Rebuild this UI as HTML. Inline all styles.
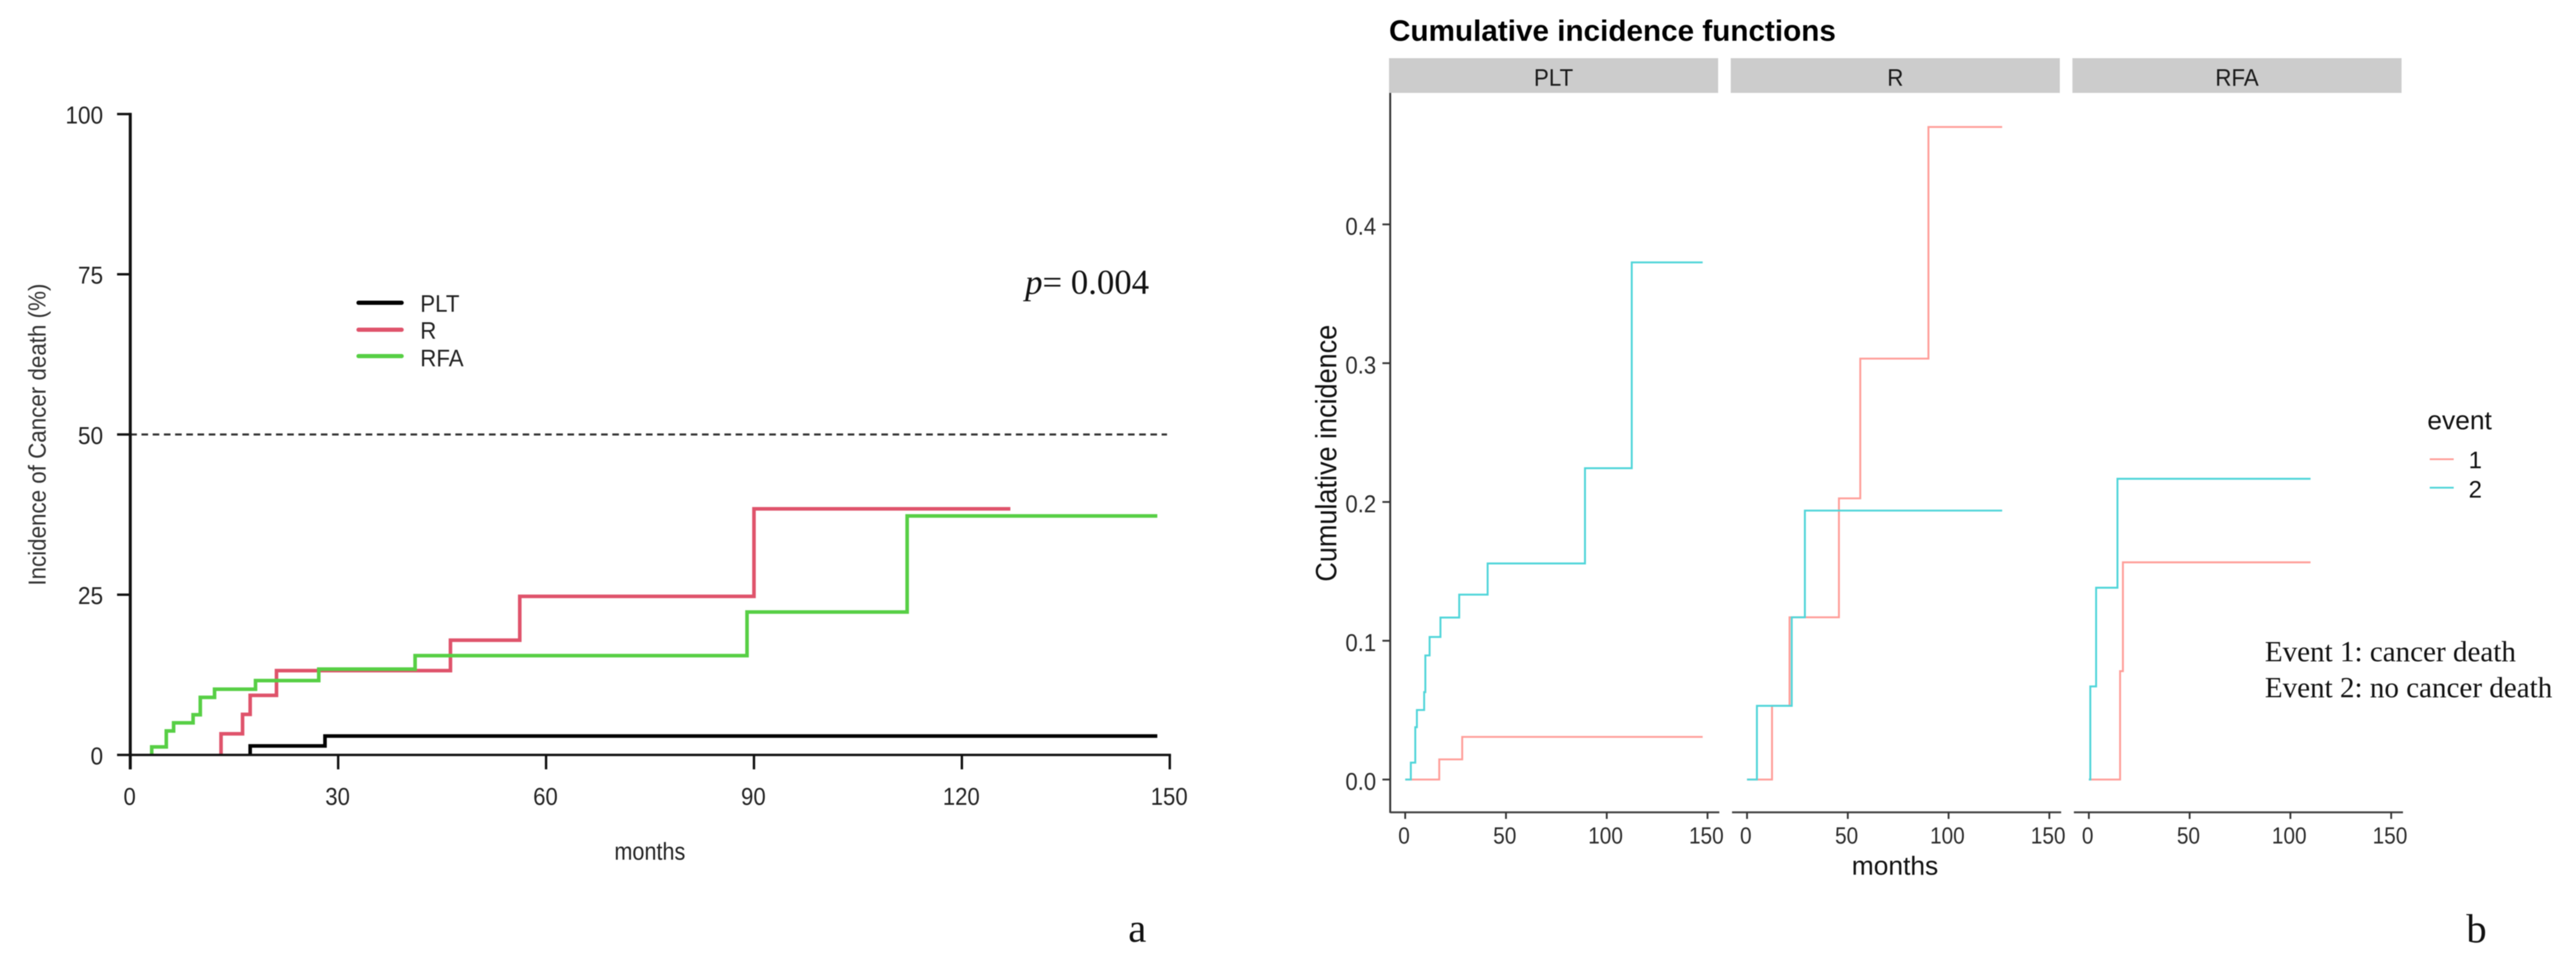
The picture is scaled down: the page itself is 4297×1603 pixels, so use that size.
<!DOCTYPE html>
<html lang="en">
<head>
<meta charset="utf-8">
<title>Cancer death incidence and cumulative incidence functions</title>
<style>
  html, body { margin: 0; padding: 0; background: #fff; }
  body { width: 4297px; height: 1603px; overflow: hidden; }
  svg { display: block; font-family: "Liberation Sans", sans-serif; filter: blur(0.7px); }
  .serif { font-family: "Liberation Serif", serif; }
</style>
</head>
<body>
<svg id="figure" xmlns="http://www.w3.org/2000/svg" width="4297" height="1603" viewBox="0 0 4297 1603">
  <rect x="0" y="0" width="4297" height="1603" fill="#ffffff"/>

  <g id="panel-a">
    <g id="a-series"></g>
    <g id="a-axes"></g>
    <text transform="translate(76,725) rotate(-90) scale(0.91,1)" text-anchor="middle" font-size="41" fill="#333">Incidence of Cancer death (%)</text>
    <text transform="translate(1084,1434) scale(0.88,1)" text-anchor="middle" font-size="41" fill="#222">months</text>
    <g>
      <line x1="598" x2="670" y1="505" y2="505" stroke="#000" stroke-width="7" stroke-linecap="round"/>
      <text transform="translate(701,520) scale(0.93,1)" font-size="40" fill="#222">PLT</text>
      <line x1="598" x2="670" y1="550" y2="550" stroke="#DF536B" stroke-width="7" stroke-linecap="round"/>
      <text transform="translate(701,565) scale(0.93,1)" font-size="40" fill="#222">R</text>
      <line x1="598" x2="670" y1="594" y2="594" stroke="#57CF45" stroke-width="7" stroke-linecap="round"/>
      <text transform="translate(701,611) scale(0.93,1)" font-size="40" fill="#222">RFA</text>
    </g>
    <text class="serif" x="1710" y="490" font-size="58" fill="#111"><tspan font-style="italic">p</tspan>= 0.004</text>
    <text class="serif" x="1882" y="1571" font-size="68" fill="#111">a</text>
  </g>

  <g id="panel-b">
    <text x="2317" y="68" font-size="49.5" font-weight="bold" fill="#000">Cumulative incidence functions</text>
    <g>
      <rect x="2317" y="97" width="549" height="58" fill="#cccccc"/>
      <text transform="translate(2591.5,143) scale(0.93,1)" text-anchor="middle" font-size="40" fill="#1a1a1a">PLT</text>
      <rect x="2887" y="97" width="549" height="58" fill="#cccccc"/>
      <text transform="translate(3161.5,143) scale(0.93,1)" text-anchor="middle" font-size="40" fill="#1a1a1a">R</text>
      <rect x="3457" y="97" width="549" height="58" fill="#cccccc"/>
      <text transform="translate(3731.5,143) scale(0.93,1)" text-anchor="middle" font-size="40" fill="#1a1a1a">RFA</text>
    </g>
    <g id="b-axes"></g>
    <g id="b-series"></g>
    <text transform="translate(2229,756) rotate(-90) scale(0.92,1)" text-anchor="middle" font-size="49" fill="#111">Cumulative incidence</text>
    <text x="3161" y="1459" text-anchor="middle" font-size="44" fill="#111">months</text>
    <g>
      <text x="4049" y="716" font-size="44" fill="#111">event</text>
      <line x1="4053" x2="4093" y1="766" y2="766" stroke="#ff9e99" stroke-width="3"/>
      <text x="4129" y="781" text-anchor="middle" font-size="40" fill="#111">1</text>
      <line x1="4053" x2="4093" y1="813.5" y2="813.5" stroke="#50d5d9" stroke-width="3"/>
      <text x="4129" y="830" text-anchor="middle" font-size="40" fill="#111">2</text>
    </g>
    <text class="serif" x="3778" y="1103" font-size="48.5" fill="#111">Event 1: cancer death</text>
    <text class="serif" x="3778" y="1163" font-size="48.5" fill="#111">Event 2: no cancer death</text>
    <text class="serif" x="4114" y="1572" font-size="68" fill="#111">b</text>
  </g>
</svg>

<script>
// ---------- Panel a data ----------
const monthTicks = [0, 30, 60, 90, 120, 150];
const percentTicks = [0, 25, 50, 75, 100];
const referencePercent = 50;

// Each curve begins where it first leaves the baseline (its first event month).
const pltMonths = [17.3, 17.3, 28.1, 148.2];
const pltPercent = [0, 1.4, 2.96, 2.96];
const rMonths = [13.1, 13.1, 16.2, 17.3, 21.1, 46.2, 56.2, 90, 127];
const rPercent = [0, 3.3, 6.33, 9.3, 13.16, 17.9, 24.75, 38.4, 38.4];
const rfaMonths = [3.1, 3.1, 5.2, 6.25, 9.07, 10.1, 12.16, 18.07, 27.2, 41.1, 89, 112.1, 148.2];
const rfaPercent = [0, 1.25, 3.74, 5, 6.27, 8.98, 10.26, 11.6, 13.4, 15.5, 22.3, 37.3, 37.3];

// ---------- Panel b data ----------
const facetNames = ["plt", "r", "rfa"];
const facetMonthTicks = [0, 50, 100, 150];
const incidenceTicks = ["0.0", "0.1", "0.2", "0.3", "0.4"];

const pltEvent1Months = [0, 16.9, 28.3, 147.6];
const pltEvent1Values = [0, 0.0145, 0.0307, 0.0307];
const pltEvent2Months = [0, 2.8, 5, 5.8, 9.4, 10, 12.1, 17.5, 26.8, 40.9, 89.2, 112.4, 147.6];
const pltEvent2Values = [0, 0.0122, 0.0377, 0.0501, 0.063, 0.0894, 0.1027, 0.1167, 0.1332, 0.1557, 0.2243, 0.3726, 0.3726];

const rEvent1Months = [0, 12.4, 21.1, 45.6, 56.2, 90, 126.6];
const rEvent1Values = [0, 0.0531, 0.1169, 0.2026, 0.3033, 0.4702, 0.4702];
const rEvent2Months = [0, 4.9, 22.2, 28.7, 126.6];
const rEvent2Values = [0, 0.0531, 0.1169, 0.1938, 0.1938];

const rfaEvent1Months = [0, 15.5, 16.9, 110];
const rfaEvent1Values = [0, 0.0781, 0.1565, 0.1565];
const rfaEvent2Months = [0, 0.7, 3.6, 14.2, 110];
const rfaEvent2Values = [0, 0.0671, 0.1382, 0.2167, 0.2167];

// ---------- Axis functions ----------
function xA(month) { return 217.3 + month * 11.56; }
function yA(percent) { return 1259.3 - percent * 10.69; }
function xB(facet, month) { return 2344 + facet * 570.2 + month * 3.362; }
function yB(value) { return 1300.3 - value * 2315; }

// ---------- Drawing helpers ----------
const NS = "http://www.w3.org/2000/svg";
function make(tag, parent, attrs) {
  const node = document.createElementNS(NS, tag);
  for (const key in attrs) { node.setAttribute(key, attrs[key]); }
  parent.appendChild(node);
  return node;
}
function stepPath(months, values, xf, yf) {
  let d = "M" + xf(months[0]).toFixed(1) + " " + yf(values[0]).toFixed(1);
  for (let i = 1; i < months.length; i++) {
    d += "H" + xf(months[i]).toFixed(1) + "V" + yf(values[i]).toFixed(1);
  }
  return d;
}

const aSeries = document.getElementById("a-series");
const aAxes = document.getElementById("a-axes");
const bAxes = document.getElementById("b-axes");
const bSeries = document.getElementById("b-series");

// ---------- Panel a marks ----------
const pltPath = make("path", aSeries, { d: stepPath(pltMonths, pltPercent, xA, yA), fill: "none", stroke: "#000000", "stroke-width": 6 });


const rPath = make("path", aSeries, { d: stepPath(rMonths, rPercent, xA, yA), fill: "none", stroke: "#DF536B", "stroke-width": 6 });


const rfaPath = make("path", aSeries, { d: stepPath(rfaMonths, rfaPercent, xA, yA), fill: "none", stroke: "#57CF45", "stroke-width": 6 });



const refLine = make("line", aAxes, { x1: xA(0), x2: xA(149.6), y1: yA(referencePercent), y2: yA(referencePercent), stroke: "#333", "stroke-width": 3.5, "stroke-dasharray": "11 7.7" });



const aYAxis = make("line", aAxes, { x1: xA(0), x2: xA(0), y1: yA(100) - 2, y2: yA(0) + 24, stroke: "#111", "stroke-width": 5 });


const aXAxis = make("line", aAxes, { x1: xA(0), x2: xA(150) + 2, y1: yA(0), y2: yA(0), stroke: "#111", "stroke-width": 4 });



monthTicks.forEach(function (tick) {
  const mark = make("line", aAxes, { x1: xA(tick), x2: xA(tick), y1: yA(0), y2: yA(0) + 24, stroke: "#111", "stroke-width": 4 });
  
  
  const label = make("text", aAxes, { transform: "translate(" + (xA(tick) - 1) + "," + (yA(0) + 83) + ") scale(0.9,1)", "text-anchor": "middle", "font-size": 41, fill: "#222" });
  label.textContent = tick;
  
  
});
percentTicks.forEach(function (tick) {
  const mark = make("line", aAxes, { x1: xA(0) - 22, x2: xA(0), y1: yA(tick), y2: yA(tick), stroke: "#111", "stroke-width": 4 });
  
  
  const label = make("text", aAxes, { transform: "translate(172," + (yA(tick) + 15.5) + ") scale(0.92,1)", "text-anchor": "end", "font-size": 41, fill: "#222" });
  label.textContent = tick;
  
  
});

// ---------- Panel b marks ----------
const bYAxis = make("line", bAxes, { x1: 2319, x2: 2319, y1: 155, y2: 1356, stroke: "#333", "stroke-width": 3.2 });



incidenceTicks.forEach(function (tick) {
  const mark = make("line", bAxes, { x1: 2306, x2: 2319, y1: yB(+tick), y2: yB(+tick), stroke: "#333", "stroke-width": 3 });
  
  
  const label = make("text", bAxes, { transform: "translate(2295.5," + (yB(+tick) + 17) + ") scale(0.9,1)", "text-anchor": "end", "font-size": 41, fill: "#2a2a2a" });
  label.textContent = tick;
  
  
});

facetNames.forEach(function (name, f) {
  const axis = make("line", bAxes, { x1: xB(f, 0) - 25, x2: xB(f, 0) + 524, y1: 1355, y2: 1355, stroke: "#444", "stroke-width": 3.2 });
  
  
  facetMonthTicks.forEach(function (tick) {
    const mark = make("line", bAxes, { x1: xB(f, tick), x2: xB(f, tick), y1: 1355, y2: 1366, stroke: "#333", "stroke-width": 3 });
    
    
    const label = make("text", bAxes, { transform: "translate(" + (xB(f, tick) - 2) + ",1407) scale(0.89,1)", "text-anchor": "middle", "font-size": 39, fill: "#2a2a2a" });
    label.textContent = tick;
    
    
  });
});

function xFacet(f) { return function (m) { return xB(f, m); }; }

const pltE1 = make("path", bSeries, { d: stepPath(pltEvent1Months, pltEvent1Values, xFacet(0), yB), fill: "none", stroke: "#ff9e99", "stroke-width": 3.2 });


const pltE2 = make("path", bSeries, { d: stepPath(pltEvent2Months, pltEvent2Values, xFacet(0), yB), fill: "none", stroke: "#50d5d9", "stroke-width": 3.2 });


const rE1 = make("path", bSeries, { d: stepPath(rEvent1Months, rEvent1Values, xFacet(1), yB), fill: "none", stroke: "#ff9e99", "stroke-width": 3.2 });


const rE2 = make("path", bSeries, { d: stepPath(rEvent2Months, rEvent2Values, xFacet(1), yB), fill: "none", stroke: "#50d5d9", "stroke-width": 3.2 });


const rfaE1 = make("path", bSeries, { d: stepPath(rfaEvent1Months, rfaEvent1Values, xFacet(2), yB), fill: "none", stroke: "#ff9e99", "stroke-width": 3.2 });


const rfaE2 = make("path", bSeries, { d: stepPath(rfaEvent2Months, rfaEvent2Values, xFacet(2), yB), fill: "none", stroke: "#50d5d9", "stroke-width": 3.2 });


</script>
</body>
</html>
